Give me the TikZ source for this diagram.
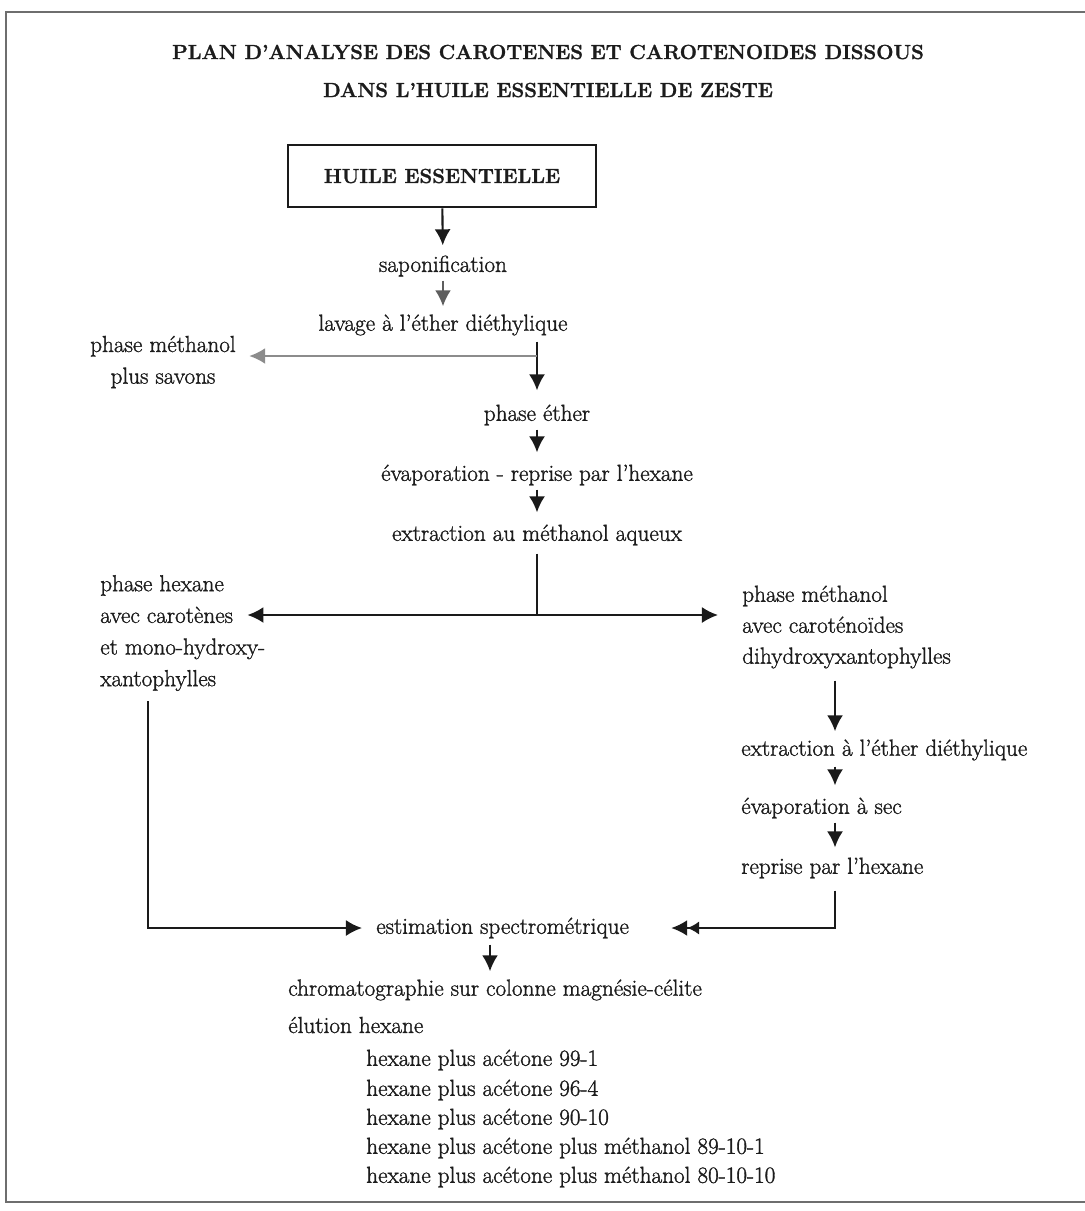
\documentclass[tikz,border=0pt]{standalone}
\usepackage{fontspec}
\usepackage{tikz}
\usetikzlibrary{arrows.meta,positioning,calc}
\definecolor{Ink}{HTML}{1C1C1C}
\definecolor{LineInk}{HTML}{1A1A1A}
\definecolor{Faded}{HTML}{8C8C8C}
\definecolor{FrameGray}{HTML}{6E6E6E}
\newfontfamily\bodyfont[FakeBold=1.3]{Latin Modern Roman}
\tikzset{
  txt/.style={inner sep=0pt,text=Ink,font=\bodyfont\fontsize{16.5}{22.5}\selectfont},
  ttl/.style={inner sep=0pt,text=Ink,font=\bodyfont\bfseries\fontsize{14.5}{17}\selectfont},
  flow/.style={draw=LineInk,line width=1.5pt,-{Latex[length=4mm,width=4mm]}},
  link/.style={draw=LineInk,line width=1.5pt},
  twohead/.style={draw=LineInk,line width=1.5pt,
    -{Latex[length=3mm,width=3.4mm] Latex[length=4mm,width=4mm]}}}

\begin{document}
\begin{tikzpicture}[x=0.025cm,y=-0.025cm]
  \useasboundingbox (0,0) rectangle (1085,1211);
  % frame
  \draw[FrameGray,line width=1.6pt](1085,12)--(6,12)--(6,1202)--(1085,1202);
  % title
  \node[ttl] (title1) at (548,52){PLAN D’ANALYSE DES CAROTENES ET CAROTENOIDES DISSOUS};
  \node[ttl] (title2) at (548,90){DANS L’HUILE ESSENTIELLE DE ZESTE};
  % main column
  \node[ttl,draw=LineInk,line width=1.8pt,minimum width=7.7cm,minimum height=1.55cm] (huile) at (442,176){HUILE ESSENTIELLE};
  \node[txt] (sapo) at (443,266){saponification};
  \node[txt] (lavage) at (443,325){lavage à l’éther diéthylique};
  \node[txt,align=center] (savons) at (163,362){phase méthanol\\plus savons};
  \node[txt] (ether) at (537,415){phase éther};
  \node[txt] (evap) at (537,475){évaporation - reprise par l’hexane};
  \node[txt] (extr) at (537,535){extraction au méthanol aqueux};
  \node[txt,align=left,anchor=west] (hexane) at (100,633)
    {phase hexane\\avec carotènes\\et mono-hydroxy-\\xantophylles};
  \node[txt,align=left,anchor=west,font=\bodyfont\fontsize{16.5}{22}\selectfont] (methanol) at (742,627)
    {phase méthanol\\avec caroténoïdes\\dihydroxyxantophylles};
  % right column
  \node[txt,anchor=west] (extrE) at (741,750){extraction à l’éther diéthylique};
  \node[txt,anchor=west] (evapsec) at (741,808){évaporation à sec};
  \node[txt,anchor=west] (reprise) at (741,868){reprise par l’hexane};
  % bottom
  \node[txt,anchor=west] (spectro) at (376,928){estimation spectrométrique};
  \node[txt,anchor=west] (chromato) at (288,990){chromatographie sur colonne magnésie-célite};
  \node[txt,anchor=west] (elution) at (288,1025){élution hexane};
  \node[txt,anchor=west] (mix1) at (366,1060){hexane plus acétone 99-1};
  \node[txt,anchor=west] (mix2) at (366,1090){hexane plus acétone 96-4};
  \node[txt,anchor=west] (mix3) at (366,1119){hexane plus acétone 90-10};
  \node[txt,anchor=west] (mix4) at (366,1148){hexane plus acétone plus méthanol 89-10-1};
  \node[txt,anchor=west] (mix5) at (366,1177){hexane plus acétone plus méthanol 80-10-10};

  \coordinate (split1) at (537,356);
  \coordinate (split2) at (537,615);
  \coordinate (lcol) at (148,700);
  \coordinate (rcol) at (835,700);
  \coordinate (mcol) at (490,950);

  % connectors
  \draw[flow,shorten >=0.25cm] (huile) -- (sapo);
  \draw[flow,draw=Faded!60!LineInk,shorten <=1mm,shorten >=0.2cm] (sapo) -- (lavage);
  \draw[flow,shorten <=1.5mm,shorten >=0.35cm] (lavage.south -| split1) -- (ether);
  \draw[flow,draw=Faded,shorten >=0.33cm] (split1) -- (savons.east |- split1);
  \draw[flow,shorten <=1mm,shorten >=0.3cm] (ether) -- (evap);
  \draw[flow,shorten <=1mm,shorten >=0.3cm] (evap) -- (extr);
  \draw[link,shorten <=2mm] (extr.south) -- (split2);
  \draw[flow,shorten >=-0.45cm] (split2) -- (hexane.east |- split2);
  \draw[flow,shorten >=0.6cm] (split2) -- (methanol.west |- split2);
  \draw[flow,shorten <=0.3cm,shorten >=0.2cm] (methanol.south -| rcol) -- (extrE.north -| rcol);
  \draw[flow,shorten <=1.5mm,shorten >=0.3cm] (extrE.south -| rcol) -- (evapsec.north -| rcol);
  \draw[flow,shorten <=1mm,shorten >=0.25cm] (evapsec.south -| rcol) -- (reprise.north -| rcol);
  \draw[twohead,shorten <=0.3cm,shorten >=1.05cm] (reprise.south -| rcol) -- (rcol |- spectro) -- (spectro.east);
  \draw[flow,shorten <=0.25cm,shorten >=0.35cm] (hexane.south -| lcol) -- (lcol |- spectro) -- (spectro.west);
  \draw[flow,shorten <=1.5mm,shorten >=0.2cm] (spectro.south -| mcol) -- (chromato.north -| mcol);
\end{tikzpicture}
\end{document}
